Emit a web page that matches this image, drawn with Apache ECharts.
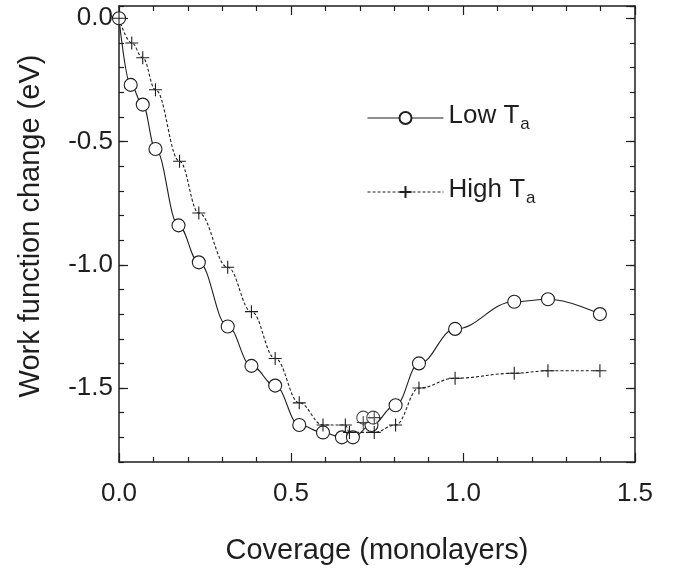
<!DOCTYPE html>
<html>
<head>
<meta charset="utf-8">
<script src="https://cdn.jsdelivr.net/npm/echarts/dist/echarts.min.js"></script>
<style>
html, body { margin: 0; padding: 0; background: #fff; }
#main { width: 681px; height: 575px; }
</style>
</head>
<body>
<div id="main"></div>
<script>
// coverage (ML) and work function change (eV)
var lowCov = [0, 0.034, 0.069, 0.106, 0.173, 0.232, 0.316, 0.385, 0.454, 0.524, 0.593, 0.648, 0.680, 0.710, 0.734, 0.739, 0.804, 0.872, 0.977, 1.149, 1.247, 1.398];
var lowWf = [0, -0.27, -0.35, -0.53, -0.84, -0.99, -1.25, -1.41, -1.49, -1.65, -1.68, -1.70, -1.70, -1.62, -1.65, -1.62, -1.57, -1.40, -1.26, -1.15, -1.14, -1.20];
var highCov = [0, 0.037, 0.069, 0.106, 0.176, 0.232, 0.316, 0.385, 0.454, 0.524, 0.593, 0.658, 0.670, 0.710, 0.742, 0.742, 0.804, 0.872, 0.977, 1.149, 1.247, 1.398];
var highWf = [0, -0.10, -0.16, -0.29, -0.58, -0.79, -1.01, -1.19, -1.38, -1.56, -1.65, -1.65, -1.68, -1.64, -1.62, -1.68, -1.65, -1.50, -1.46, -1.44, -1.43, -1.43];
// points the fitted curve does not go through
var lowOffCurve = [13, 15];
var highOffCurve = [13, 14];
var seriesNames = ['Low Ta', 'High Ta'];

var ink = '#1e1e1e';
var font = 'Liberation Sans';
var plusPath = 'path://M5,0L5,10M0,5L10,5';

function pairs(xs, ys, skip, keep) {
    var out = [];
    for (var i = 0; i < xs.length; i++) {
        var off = skip.indexOf(i) >= 0;
        if (off === !keep) out.push([xs[i], ys[i]]);
    }
    return out;
}

function xAx(pos, showLabel) {
    return {
        type: 'value', position: pos, min: 0, max: 1.5, interval: 0.5,
        name: showLabel ? 'Coverage (monolayers)' : '',
        nameLocation: 'middle', nameGap: 74,
        nameTextStyle: { fontSize: 29, color: ink, fontFamily: font },
        axisLine: { show: true, onZero: false, lineStyle: { color: ink, width: 1.5 } },
        axisTick: { show: true, inside: true, length: 9, lineStyle: { color: ink, width: 1.2 } },
        minorTick: { show: true, splitNumber: 5, length: 5, lineStyle: { color: ink, width: 1.2 } },
        axisLabel: { show: showLabel, margin: 19, fontSize: 26, color: ink, fontFamily: font,
            formatter: function (v) { return v.toFixed(1); } },
        splitLine: { show: false }
    };
}

function yMajor(pos, showLabel) {
    return {
        type: 'value', position: pos, min: -1.8, max: 0.05, minInterval: 0.5, maxInterval: 0.5,
        name: showLabel ? 'Work function change (eV)' : '',
        nameLocation: 'middle', nameGap: 74, nameRotate: 90,
        nameTextStyle: { fontSize: 29, color: ink, fontFamily: font, padding: [0, 0, 0, 16] },
        axisLine: { show: true, onZero: false, lineStyle: { color: ink, width: 1.5 } },
        axisTick: { show: true, inside: true, length: 9, lineStyle: { color: ink, width: 1.2 } },
        axisLabel: { show: showLabel, margin: 6, fontSize: 26, color: ink, fontFamily: font,
            showMinLabel: false, showMaxLabel: false,
            formatter: function (v) { return v.toFixed(1); } },
        splitLine: { show: false }
    };
}

function yMinor(pos) {
    return {
        type: 'value', position: pos, min: -1.8, max: 0.05, interval: 0.1,
        axisLine: { show: false, onZero: false },
        axisTick: { show: true, inside: true, length: 5, lineStyle: { color: ink, width: 1.2 } },
        axisLabel: { show: false },
        splitLine: { show: false }
    };
}

var lineBase = {
    type: 'line', xAxisIndex: 0, yAxisIndex: 0, smooth: 0.4, smoothMonotone: 'x',
    showAllSymbol: true, z: 3
};

var option = {
    backgroundColor: '#fff',
    animation: false,
    grid: { left: 119, right: 46, top: 6, bottom: 113 },
    legend: {
        orient: 'vertical', left: 362, top: 95,
        itemWidth: 76, itemHeight: 15, itemGap: 41,
        data: seriesNames,
        lineStyle: { width: 1 },
        formatter: function (n) {
            var p = n.split(' ');
            return '{t|' + p[0] + ' T}{s|a}';
        },
        textStyle: {
            rich: {
                t: { fontSize: 26, color: ink, fontFamily: font, lineHeight: 30, verticalAlign: 'top' },
                s: { fontSize: 17, color: ink, fontFamily: font, lineHeight: 18, verticalAlign: 'bottom', padding: [16, 0, 0, 1] }
            }
        }
    },
    xAxis: [xAx('bottom', true), xAx('top', false)],
    yAxis: [yMajor('left', true), yMinor('left'), yMajor('right', false), yMinor('right')],
    series: [
        Object.assign({}, lineBase, {
            name: seriesNames[0],
            data: pairs(lowCov, lowWf, lowOffCurve, true),
            symbol: 'circle', symbolSize: 13,
            lineStyle: { color: ink, width: 1.1, type: 'solid' },
            itemStyle: { color: '#fff', borderColor: ink, borderWidth: 1.1 }
        }),
        {
            name: seriesNames[0], type: 'scatter', symbol: 'circle', symbolSize: 13, z: 4,
            data: pairs(lowCov, lowWf, lowOffCurve, false),
            itemStyle: { color: '#fff', borderColor: ink, borderWidth: 1.1 }
        },
        Object.assign({}, lineBase, {
            name: seriesNames[1],
            data: pairs(highCov, highWf, highOffCurve, true),
            symbol: plusPath, symbolSize: 13,
            lineStyle: { color: ink, width: 1.1, type: [3, 2] },
            itemStyle: { color: 'none', borderColor: ink, borderWidth: 1.1 }
        }),
        {
            name: seriesNames[1], type: 'scatter', symbol: plusPath, symbolSize: 13, z: 4,
            data: pairs(highCov, highWf, highOffCurve, false),
            itemStyle: { color: 'none', borderColor: ink, borderWidth: 1.1 }
        }
    ]
};

echarts.init(document.getElementById('main')).setOption(option);
</script>
</body>
</html>
